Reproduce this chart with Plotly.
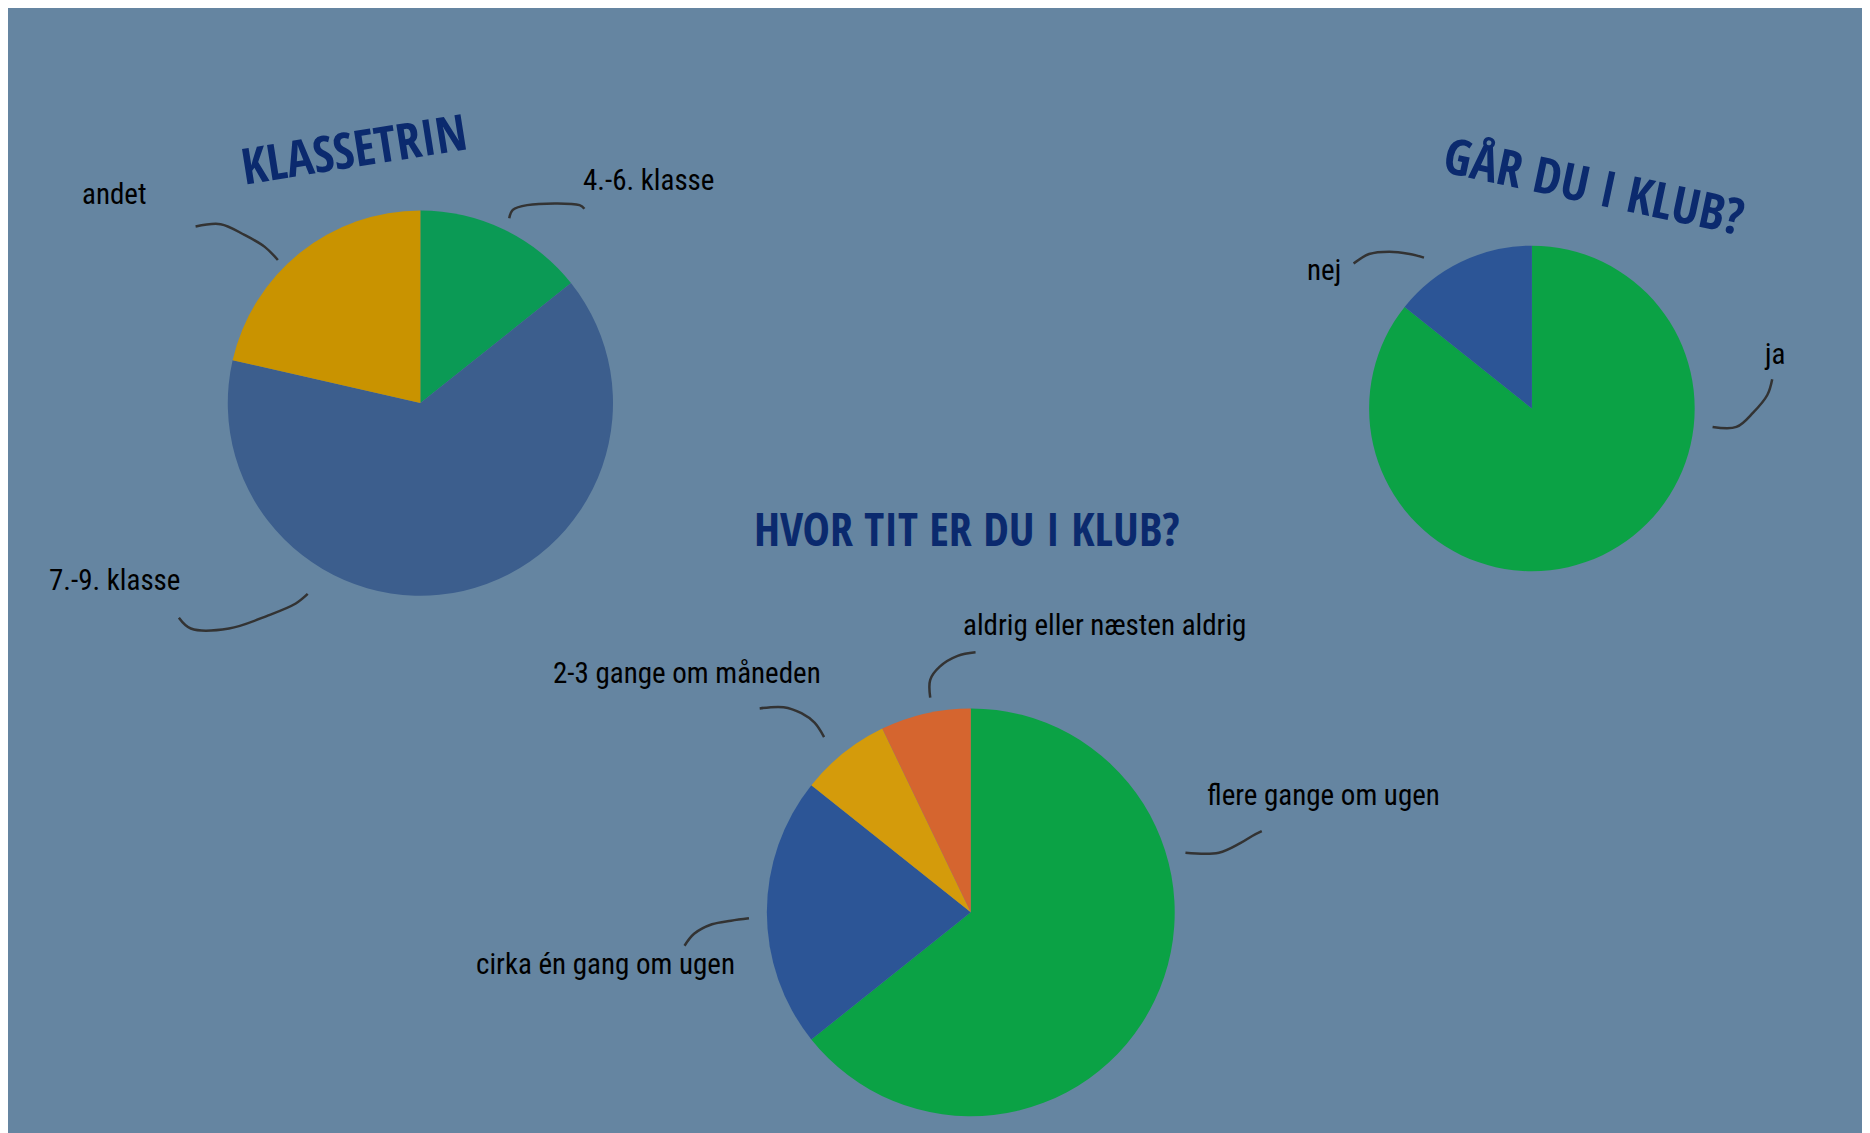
import plotly.graph_objects as go

W, H = 1870, 1133
S = W / 1568   # reference grid was 1568 wide
OFF = 8        # page body margin that the browser adds around the plot

# data
klasse_labels = ["4.-6. klasse", "7.-9. klasse", "andet"]
klasse_values = [2, 9, 3]

klub_labels = ["ja", "nej"]
klub_values = [6, 1]

tit_labels = ["flere gange om ugen", "cirka én gang om ugen", "2-3 gange om måneden", "aldrig eller næsten aldrig"]
tit_values = [9, 3, 1, 1]

BG = "#6585a1"
NAVY = "#0b2a6e"
LABEL_FONT = "Roboto Condensed, Liberation Sans, Arial, sans-serif"
TITLE_FONT = "Open Sans Condensed, Roboto Condensed, sans-serif"


def px(x, y):
    return (x * S - OFF) / W, 1 - (y * S - OFF) / H


def dom(cx, cy, r):
    x0, y1 = px(cx - r, cy - r)
    x1, y0 = px(cx + r, cy + r)
    return dict(x=[x0, x1], y=[y0, y1])


def pie(labels, values, colors, domain):
    return go.Pie(labels=labels, values=values, sort=False, direction="clockwise", rotation=0,
                  marker=dict(colors=colors, line=dict(width=0)), textinfo="none",
                  hoverinfo="label+percent", domain=domain, showlegend=False)


fig = go.Figure()
fig.add_trace(pie(klasse_labels, klasse_values, ["#0b9a55", "#3c5e8d", "#c99300"], dom(352.5, 338, 161.5)))
fig.add_trace(pie(klub_labels, klub_values, ["#0ba245", "#2c5596"], dom(1284.5, 342.5, 136.5)))
fig.add_trace(pie(tit_labels, tit_values, ["#0ba245", "#2c5596", "#d49b0b", "#d5652f"], dom(814, 765, 171)))

shapes = [dict(type="rect", xref="paper", yref="paper", x0=0, x1=1, y0=0, y1=1,
               fillcolor=BG, line=dict(width=0), layer="below")]

# hand drawn connector curves
curves = [
    [(164, 190), (185, 188), (205, 197), (222, 207), (233, 218)],
    [(427, 183), (430, 176), (442, 172), (486, 172), (490, 175)],
    [(150, 518), (160, 527), (192, 527), (225, 516), (248, 506), (258, 498)],
    [(1135, 221), (1148, 213), (1165, 211), (1182, 213), (1194, 216)],
    [(1436, 358), (1456, 358), (1470, 346), (1482, 331), (1486, 318)],
    [(780, 585), (780, 570), (788, 559), (803, 550), (818, 547)],
    [(637, 594), (657, 593), (672, 598), (683, 606), (691, 618)],
    [(994, 715), (1022, 715), (1040, 707), (1050, 701), (1058, 697)],
    [(574, 793), (582, 783), (597, 775), (613, 772), (628, 770)],
]
for c in curves:
    pts = [px(x, y) for x, y in c]
    fig.add_trace(go.Scatter(x=[p[0] for p in pts], y=[p[1] for p in pts], mode="lines",
                             line=dict(color="#333333", width=2.5, shape="spline"),
                             hoverinfo="skip", showlegend=False))

labels = [
    ("andet", 96, 163), ("4.-6. klasse", 544, 151), ("7.-9. klasse", 96, 486),
    ("nej", 1110, 226), ("ja", 1488, 297),
    ("aldrig eller næsten aldrig", 926, 524), ("2-3 gange om måneden", 576, 564),
    ("flere gange om ugen", 1110, 667), ("cirka én gang om ugen", 508, 808),
]
annotations = []
for t, x, y in labels:
    ax, ay = px(x, y)
    annotations.append(dict(text=t, x=ax, y=ay, xref="paper", yref="paper", showarrow=False,
                            xanchor="center", yanchor="middle",
                            font=dict(family=LABEL_FONT, size=29, color="#000000")))

titles = [("KLASSETRIN", 297, 124, -9, 50), ("GÅR DU I KLUB?", 1337, 155, 12, 50),
          ("HVOR TIT ER DU I KLUB?", 811, 443, 0, 46)]
for t, x, y, a, sz in titles:
    ax, ay = px(x, y)
    annotations.append(dict(text="<b>" + t + "</b>", x=ax, y=ay, xref="paper", yref="paper", showarrow=False,
                            xanchor="center", yanchor="middle", textangle=a,
                            font=dict(family=TITLE_FONT, size=sz, color=NAVY)))

fig.update_layout(width=W, height=H, margin=dict(l=0, r=0, t=0, b=0),
                  paper_bgcolor="white", plot_bgcolor="rgba(0,0,0,0)",
                  shapes=shapes, annotations=annotations,
                  xaxis=dict(visible=False, range=[0, 1], fixedrange=True),
                  yaxis=dict(visible=False, range=[0, 1], fixedrange=True))

fig.write_html("out.html")
